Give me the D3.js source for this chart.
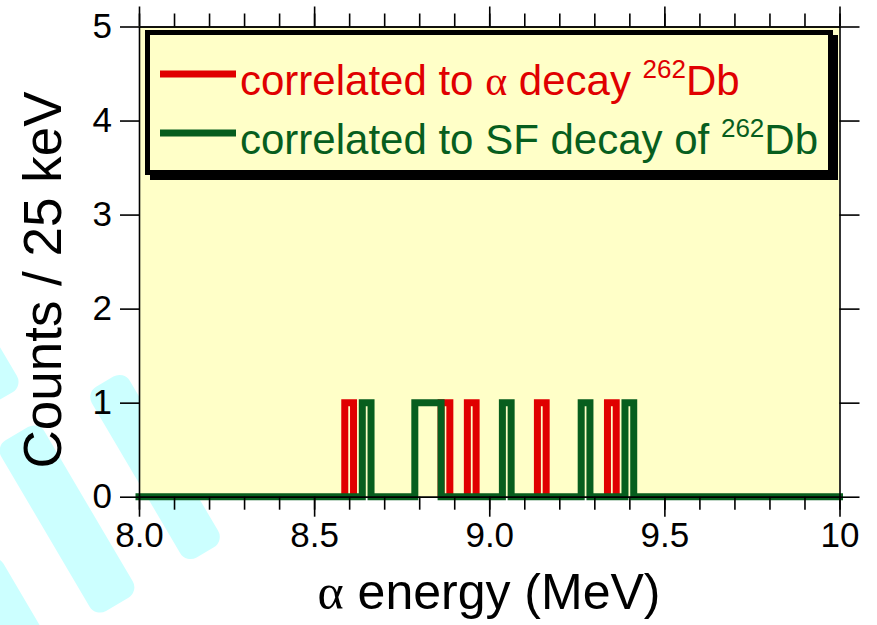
<!DOCTYPE html>
<html>
<head>
<meta charset="utf-8">
<script src="https://cdn.jsdelivr.net/npm/d3@7"></script>
<style>
  body { margin: 0; background: #fff; }
  svg { display: block; font-family: "Liberation Sans", Arial, sans-serif; }
</style>
</head>
<body>
<div id="chart"></div>
<script>
// alpha-particle energies (MeV) of the events, one entry per count
const alphaEvents = [8.6, 8.875, 8.95, 9.15, 9.35];        // correlated to alpha decay of 262Db
const sfEvents = [8.65, 8.8, 8.825, 8.85, 9.05, 9.275, 9.4]; // correlated to SF decay of 262Db
const binWidth = 0.025; // 25 keV

const xTicks = [8.0, 8.5, 9.0, 9.5, 10];
const xTickLabels = ["8.0", "8.5", "9.0", "9.5", "10"];
const yTicks = [0, 1, 2, 3, 4, 5];
const seriesNames = ["correlated to \u03b1 decay ", "correlated to SF decay of "];
const seriesColors = ["#e00000", "#075e1e"];

const width = 877, height = 625;
const plotLeft = 139, plotRight = 839.5, plotTop = 26.5, plotBottom = 496.7;

const svg = d3.select("#chart").append("svg")
  .attr("width", width)
  .attr("height", height);

// background logo stripes (cyan), sit behind the plot area
const stripes = [
  { cx: 155, cy: 467, w: 44, l: 198 },
  { cx: 67, cy: 519, w: 50, l: 198 },
  { cx: -48, cy: 313, w: 48, l: 198 },
  { cx: 27, cy: 651, w: 48, l: 198 }
];
svg.selectAll(".stripe")
  .data(stripes)
  .join("rect")
  .attr("class", "stripe")
  .attr("x", d => d.cx - d.w / 2)
  .attr("y", d => d.cy - d.l / 2)
  .attr("width", d => d.w)
  .attr("height", d => d.l)
  .attr("rx", 12)
  .attr("transform", d => `rotate(-30.5,${d.cx},${d.cy})`)
  .attr("fill", "#ccffff");

const x = d3.scaleLinear().domain([8, 10]).range([plotLeft, plotRight]);
const y = d3.scaleLinear().domain([0, 5]).range([plotBottom, plotTop]);

// plot area fill
svg.append("rect")
  .attr("x", plotLeft).attr("y", plotTop)
  .attr("width", plotRight - plotLeft).attr("height", plotBottom - plotTop)
  .attr("fill", "#ffffc8");

// legend box with drop shadow
const lg = svg.append("g");
lg.append("rect")
  .attr("x", 150).attr("y", 35)
  .attr("width", 688).attr("height", 145)
  .attr("fill", "#000");
lg.append("rect")
  .attr("x", 147.5).attr("y", 32.5)
  .attr("width", 683).attr("height", 140)
  .attr("fill", "#ffffc8")
  .attr("stroke", "#000")
  .attr("stroke-width", 5);

const rowY = [74, 133];
lg.selectAll(".legLine")
  .data(seriesNames)
  .join("line")
  .attr("class", "legLine")
  .attr("x1", 160).attr("x2", 236)
  .attr("y1", (d, i) => rowY[i]).attr("y2", (d, i) => rowY[i])
  .attr("stroke", (d, i) => seriesColors[i])
  .attr("stroke-width", 7);

const legText = lg.selectAll(".legText")
  .data(seriesNames)
  .join("text")
  .attr("class", "legText")
  .attr("x", 240)
  .attr("y", (d, i) => rowY[i] + 21)
  .attr("font-size", 42)
  .attr("fill", (d, i) => seriesColors[i]);
legText.each(function (d) {
  const t = d3.select(this);
  const parts = d.split("\u03b1");
  t.append("tspan").text(parts[0]);
  if (parts.length > 1) {
    t.append("tspan").attr("font-family", "Liberation Serif, serif").text("\u03b1");
    t.append("tspan").text(parts[1]);
  }
  t.append("tspan").attr("font-size", 26).attr("dy", -17).text("262");
  t.append("tspan").attr("dy", 17).text("Db");
});

// histograms, 25 keV bins centred on multiples of 25 keV
const binner = d3.bin()
  .domain([8, 10])
  .thresholds(d3.range(8 + binWidth / 2, 10, binWidth));

// full step outline including the zero line
function stepPoints(events) {
  const bins = binner(events);
  const pts = bins.map(b => [b.x0, b.length]);
  pts.push([10, bins[bins.length - 1].length]);
  return pts;
}

// only the raised parts (no zero line)
function bumpPoints(events) {
  const bins = binner(events);
  const runs = [];
  let cur = null;
  bins.forEach(b => {
    if (b.length > 0) {
      if (!cur) { cur = [[b.x0, 0]]; runs.push(cur); }
      cur.push([b.x0, b.length], [b.x1, b.length]);
    } else if (cur) {
      cur.push([b.x0, 0]);
      cur = null;
    }
  });
  return runs;
}

const step = d3.line()
  .x(d => x(d[0]))
  .y(d => y(d[1]))
  .curve(d3.curveStepAfter);

const poly = d3.line()
  .x(d => x(d[0]))
  .y(d => y(d[1]));

// alpha-correlated: raised bins only
svg.selectAll(".histA")
  .data(bumpPoints(alphaEvents))
  .join("path")
  .attr("class", "histA")
  .attr("d", poly)
  .attr("fill", "none")
  .attr("stroke", seriesColors[0])
  .attr("stroke-width", 7)
  .attr("stroke-linejoin", "miter");

// SF-correlated: full step line
svg.append("path")
  .attr("d", step(stepPoints(sfEvents)))
  .attr("fill", "none")
  .attr("stroke", seriesColors[1])
  .attr("stroke-width", 7)
  .attr("stroke-linejoin", "miter")
  .attr("stroke-linecap", "square");

// axes
const minorX = d3.range(8, 10.001, 0.1);

function styleAxis(g) {
  g.selectAll("path").attr("stroke", "#000").attr("stroke-width", 1.6);
  g.selectAll("line").attr("stroke", "#000").attr("stroke-width", 1.6);
  g.selectAll("text").attr("font-size", 35).attr("fill", "#000")
    .attr("font-family", "Liberation Sans, Arial, sans-serif");
}

svg.append("g")
  .attr("transform", `translate(0,${plotBottom})`)
  .call(d3.axisBottom(x).tickValues(minorX).tickSize(13).tickSizeOuter(0).tickFormat(""))
  .call(styleAxis);
svg.append("g")
  .attr("transform", `translate(0,${plotBottom})`)
  .call(d3.axisBottom(x).tickValues(xTicks).tickSize(20).tickSizeOuter(0).tickPadding(5)
    .tickFormat((d, i) => xTickLabels[i]))
  .call(styleAxis);

svg.append("g")
  .attr("transform", `translate(0,${plotTop})`)
  .call(d3.axisTop(x).tickValues(minorX).tickSize(13).tickSizeOuter(0).tickFormat(""))
  .call(styleAxis);
svg.append("g")
  .attr("transform", `translate(0,${plotTop})`)
  .call(d3.axisTop(x).tickValues(xTicks).tickSize(20).tickSizeOuter(0).tickFormat(""))
  .call(styleAxis);

svg.append("g")
  .attr("transform", `translate(${plotLeft},0)`)
  .call(d3.axisLeft(y).tickValues(yTicks).tickSize(19).tickSizeOuter(0).tickPadding(8)
    .tickFormat(d3.format("d")))
  .call(styleAxis);
svg.append("g")
  .attr("transform", `translate(${plotRight},0)`)
  .call(d3.axisRight(y).tickValues(yTicks).tickSize(20).tickSizeOuter(0).tickFormat(""))
  .call(styleAxis);

// axis titles
svg.append("text")
  .attr("transform", "translate(61,280) rotate(-90)")
  .attr("text-anchor", "middle")
  .attr("font-size", 53)
  .text("Counts / 25 keV");

const xt = svg.append("text")
  .attr("x", 489)
  .attr("y", 609)
  .attr("text-anchor", "middle")
  .attr("font-size", 50);
xt.append("tspan").attr("font-family", "Liberation Serif, serif").text("\u03b1");
xt.append("tspan").text(" energy (MeV)");
</script>
</body>
</html>
